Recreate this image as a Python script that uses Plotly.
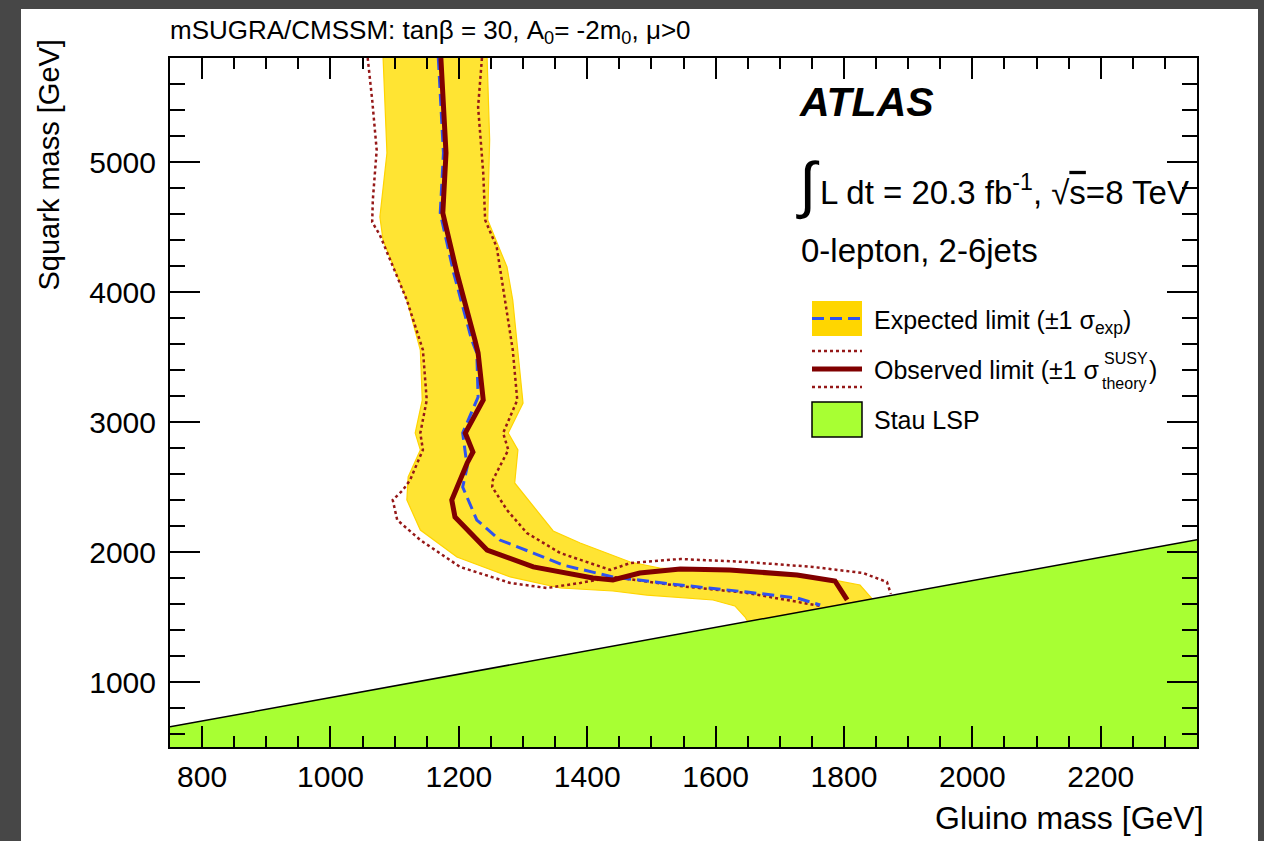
import plotly.graph_objects as go

# ---------------- data (GeV) ----------------
obs_x = [1172, 1180, 1175, 1197, 1225, 1230, 1238, 1210, 1222, 1213, 1189, 1194, 1244, 1316, 1409, 1440, 1482, 1545, 1622, 1727, 1786, 1805]
obs_y = [5800, 5069, 4608, 4146, 3631, 3531, 3169, 2915, 2769, 2685, 2400, 2269, 2015, 1885, 1800, 1785, 1838, 1869, 1862, 1823, 1777, 1631]

exp_x = [1168, 1176, 1171, 1192, 1220, 1228, 1230, 1206, 1213, 1206, 1228, 1264, 1316, 1362, 1440, 1545, 1649, 1727, 1763]
exp_y = [5800, 5069, 4608, 4146, 3631, 3531, 3192, 2915, 2654, 2500, 2246, 2092, 1992, 1900, 1808, 1746, 1692, 1646, 1592]

theo_dn_x = [1058, 1065, 1072, 1066, 1065, 1077, 1108, 1119, 1144, 1150, 1140, 1144, 1124, 1113, 1097, 1104, 1140, 1202, 1280, 1337, 1389, 1440, 1545, 1649, 1763]
theo_dn_y = [5800, 5477, 5092, 4708, 4538, 4438, 4069, 3938, 3554, 3169, 2915, 2785, 2554, 2477, 2400, 2246, 2092, 1885, 1762, 1723, 1762, 1808, 1738, 1685, 1585]

theo_up_x = [1236, 1230, 1238, 1241, 1259, 1272, 1284, 1291, 1269, 1277, 1253, 1252, 1275, 1306, 1358, 1436, 1467, 1545, 1649, 1752, 1830, 1867, 1873]
theo_up_y = [5800, 5423, 4915, 4554, 4346, 3938, 3554, 3169, 2915, 2785, 2554, 2500, 2323, 2146, 1992, 1862, 1915, 1946, 1923, 1885, 1838, 1769, 1677]

band_x = [1082, 1088, 1077, 1082, 1119, 1140, 1143, 1132, 1140, 1121, 1119, 1140, 1197, 1280, 1358, 1440, 1493, 1596, 1630, 1646, 1650,
          1844,
          1825, 1783, 1622, 1513, 1467, 1389, 1347, 1287, 1292, 1277, 1300, 1292, 1284, 1275, 1245, 1248, 1244]
band_y = [5800, 5069, 4577, 4400, 3938, 3554, 3169, 2915, 2785, 2577, 2400, 2169, 1961, 1808, 1723, 1700, 1669, 1631, 1585, 1500, 1465,
          1640,
          1746, 1785, 1846, 1877, 1923, 2069, 2162, 2531, 2785, 2915, 3146, 3554, 3938, 4192, 4554, 5169, 5800]

stau_x = [750, 2350]
stau_y = [655, 2095]

x_range = [750, 2350]
y_range = [500, 5800]

FONT = "Liberation Sans, Arial, Helvetica, sans-serif"
C_OBS = "#800000"
C_THEO = "#951818"
C_EXP = "#2F52EE"
C_BAND = "#FFE433"
C_BAND_EDGE = "#FFD400"
C_STAU = "#A8FF33"

fig = go.Figure()
fig.add_trace(go.Scatter(x=band_x, y=band_y, mode="lines", fill="toself", fillcolor=C_BAND,
                         line=dict(color=C_BAND_EDGE, width=1.2), hoverinfo="skip"))
fig.add_trace(go.Scatter(x=stau_x, y=stau_y, mode="lines", fill="tozeroy", fillcolor=C_STAU,
                         line=dict(color="black", width=1.5), hoverinfo="skip"))
fig.add_trace(go.Scatter(x=theo_dn_x, y=theo_dn_y, mode="lines",
                         line=dict(color=C_THEO, width=2.5, dash="dot")))
fig.add_trace(go.Scatter(x=theo_up_x, y=theo_up_y, mode="lines",
                         line=dict(color=C_THEO, width=2.5, dash="dot")))
fig.add_trace(go.Scatter(x=exp_x, y=exp_y, mode="lines",
                         line=dict(color=C_EXP, width=3, dash="12px,6px")))
fig.add_trace(go.Scatter(x=obs_x, y=obs_y, mode="lines",
                         line=dict(color=C_OBS, width=5)))

L, R, T, B = 170, 67, 58, 94
W, H = 1264, 841
PW, PH = W - L - R, H - T - B


def px(x):
    return (x - L) / PW


def py(y):
    return (H - B - y) / PH


shapes = []
# white slide panel
shapes.append(dict(type="rect", xref="paper", yref="paper", x0=px(21), x1=px(1258), y0=py(845), y1=py(9),
                   fillcolor="white", line=dict(width=0), layer="below"))
# legend swatches
shapes.append(dict(type="rect", xref="paper", yref="paper", x0=px(812), x1=px(862), y0=py(336), y1=py(301),
                   fillcolor="#FFD600", line=dict(width=0)))
shapes.append(dict(type="line", xref="paper", yref="paper", x0=px(812), x1=px(862), y0=py(318.5), y1=py(318.5),
                   line=dict(color=C_EXP, width=3, dash="12px,6px")))
shapes.append(dict(type="line", xref="paper", yref="paper", x0=px(812), x1=px(862), y0=py(351), y1=py(351),
                   line=dict(color=C_THEO, width=2.5, dash="dot")))
shapes.append(dict(type="line", xref="paper", yref="paper", x0=px(812), x1=px(862), y0=py(369), y1=py(369),
                   line=dict(color=C_OBS, width=5)))
shapes.append(dict(type="line", xref="paper", yref="paper", x0=px(812), x1=px(862), y0=py(387), y1=py(387),
                   line=dict(color=C_THEO, width=2.5, dash="dot")))
shapes.append(dict(type="rect", xref="paper", yref="paper", x0=px(812), x1=px(862), y0=py(437), y1=py(402),
                   fillcolor=C_STAU, line=dict(color="black", width=1.5)))

ann = []


def text(x, y, s, size, xanchor="left", yanchor="middle", angle=0, family=FONT):
    ann.append(dict(x=px(x), y=py(y), xref="paper", yref="paper", text=s, showarrow=False,
                    xanchor=xanchor, yanchor=yanchor, textangle=angle,
                    font=dict(family=family, size=size, color="black")))


text(168, 31, "mSUGRA/CMSSM: tanβ = 30, A<sub>0</sub>= -2m<sub>0</sub>, μ>0", 26)
text(48, 38, "Squark mass [GeV]", 29, xanchor="center", yanchor="top", angle=-90)
text(1206, 818, "Gluino mass [GeV]", 32, xanchor="right")
text(797, 102, "<b><i>ATLAS</i></b>", 41)
text(808, 185, "∫", 62, xanchor="center")
text(818, 190, "L dt = 20.3 fb<sup>-1</sup>, √<span style='text-decoration:overline'>s</span>=8 TeV", 33)
text(799, 250, "0-lepton, 2-6jets", 33)
text(872, 322, "Expected limit (±1 σ<sub>exp</sub>)", 25)
text(872, 370, "Observed limit (±1 σ", 25)
text(1102, 358, "SUSY", 16)
text(1100, 383, "theory", 16)
text(1147, 370, ")", 25)
text(872, 420, "Stau LSP", 25)

axis_common = dict(showline=True, linecolor="black", linewidth=2, mirror="allticks", ticks="inside",
                   tickcolor="black", tickwidth=2, showgrid=False, zeroline=False,
                   tickfont=dict(family=FONT, size=30, color="black"))

fig.update_layout(
    width=W, height=H, margin=dict(l=L, r=R, t=T, b=B),
    paper_bgcolor="#474747", plot_bgcolor="white", showlegend=False,
    shapes=shapes, annotations=ann,
    xaxis=dict(range=x_range, dtick=200, tick0=0, ticklen=21, ticklabelstandoff=2,
               minor=dict(dtick=50, ticklen=11, ticks="inside", tickcolor="black", tickwidth=2),
               **axis_common),
    yaxis=dict(range=y_range, dtick=1000, tick0=0, ticklen=30, ticklabelstandoff=6,
               minor=dict(dtick=200, ticklen=15, ticks="inside", tickcolor="black", tickwidth=2),
               **axis_common),
)

fig.write_html("out.html", config={"displayModeBar": False},
               post_script="document.body.style.margin='0';document.body.style.overflow='hidden';")
